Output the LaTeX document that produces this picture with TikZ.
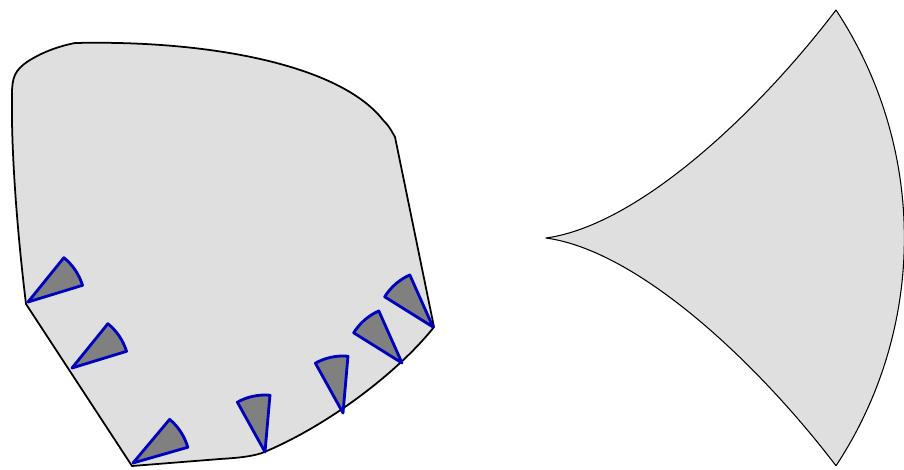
\documentclass[tikz,border=0pt]{standalone}
\usepackage{tikz}

\begin{document}
\begin{tikzpicture}[x=0.03cm, y=0.03cm,
    region/.style={fill=gray!25, draw=black, line join=round},
    sector/.style={fill=gray, draw=blue!75!black, line width=2.4pt, line join=round}]
  \useasboundingbox (0,0) rectangle (904,469);
  % Left region with smooth top and corners at the bottom
  \draw[region, line width=1.5pt]
    (26,165) .. controls (17,239) and (11,319) .. (12,374)
    .. controls (12,391) and (14,399) .. (30,409)
    .. controls (45,418) and (60,423) .. (75,426)
    .. controls (210,429) and (340,404) .. (383,349)
    .. controls (390,342) and (392,337) .. (395,332)
    -- (434,142)
    .. controls (400,99) and (330,44) .. (262,16)
    .. controls (250,12) and (235,11) .. (220,10)
    -- (132,3) -- cycle;
  % Sectors sitting on the boundary
  \foreach \x/\y/\a in {28/167/17, 72/101/17, 133/6/16,
                        265/17/85, 343/56/85, 402/106/114, 433/142/114}
    \draw[sector] (\x,\y) -- ++(\a:57) arc[start angle=\a, end angle=\a+34, radius=57] -- cycle;
  % Right region: two concave sides meeting in a cusp, one circular side
  \draw[region, line width=0.9pt]
    (546,231) .. controls (640,244) and (760,359) .. (836,459)
    arc[start angle=33.4, end angle=-33.4, radius=414]
    .. controls (760,103) and (640,218) .. (546,231) -- cycle;
\end{tikzpicture}
\end{document}
